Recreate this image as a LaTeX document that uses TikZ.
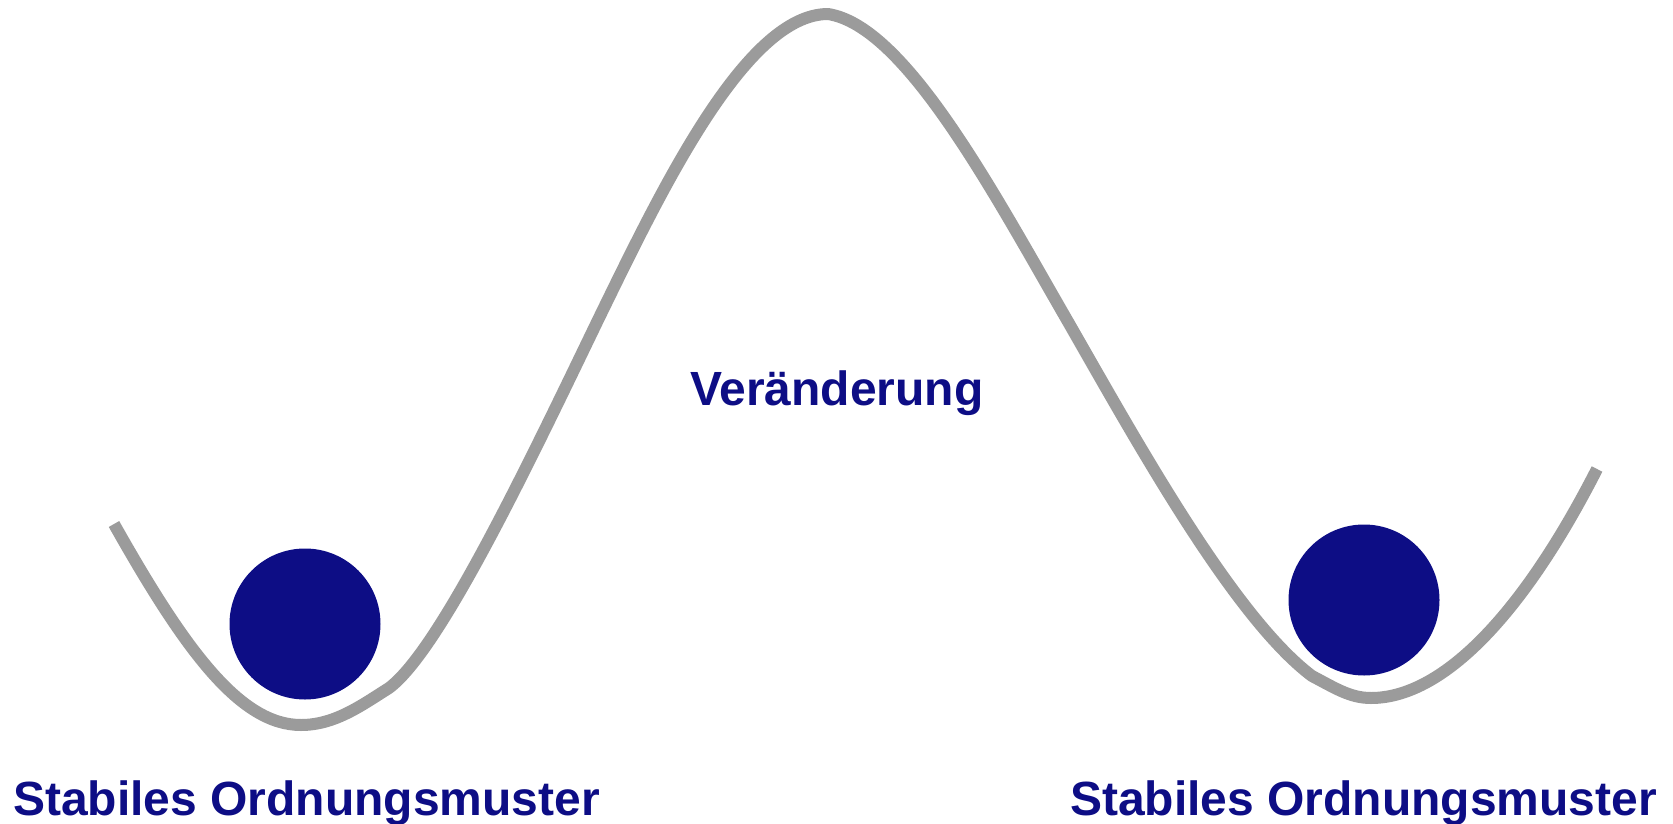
\documentclass[tikz,border=0pt]{standalone}
\usepackage{fontspec}
\setmainfont{Liberation Sans}
\definecolor{ballblue}{RGB}{13,13,133}
\definecolor{curvegray}{RGB}{155,155,155}
\begin{document}
\begin{tikzpicture}[x=1pt,y=-1pt,
  lbl/.style={font=\bfseries\fontsize{48}{50}\selectfont, text=ballblue, inner sep=0pt, anchor=base west},
  ball/.style={circle, fill=ballblue, minimum size=151pt, inner sep=0pt},
  curve/.style={draw=curvegray, line width=12pt, line join=round}]
\useasboundingbox (0,0) rectangle (1673,824);
\coordinate (s) at (114,524);
\coordinate (m1) at (301,725);
\coordinate (j1) at (389,688);
\coordinate (q1) at (598,320);
\coordinate (p) at (828,14);
\coordinate (q2) at (1067,320);
\coordinate (j2) at (1312,676);
\coordinate (m2) at (1371,698);
\coordinate (e) at (1597,469);
\draw[curve] (s) .. controls (185,650) and (240,725) .. (m1)
  .. controls (335,725) and (362,705) .. (j1)
  .. controls (440,650) and (528,465) .. (q1)
  .. controls (660,193) and (745,14) .. (p)
  .. controls (905,26) and (992,190) .. (q2)
  .. controls (1132,433) and (1232,616) .. (j2)
  .. controls (1335,688) and (1350,698) .. (m2)
  .. controls (1440,698) and (1520,620) .. (e);
\node[ball] (b1) at (305,624) {};
\node[ball] (b2) at (1364,600) {};
\node[lbl] (t1) at (690,405) {Veränderung};
\node[lbl] (t2) at (13,815) {Stabiles Ordnungsmuster};
\node[lbl] (t3) at (1070,815) {Stabiles Ordnungsmuster};
\end{tikzpicture}
\end{document}
